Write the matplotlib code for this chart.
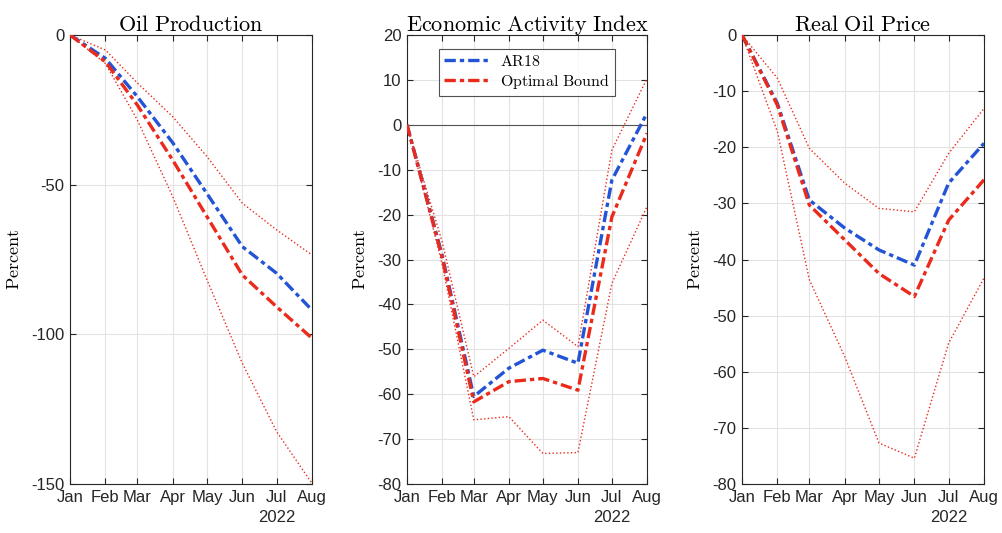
import matplotlib
matplotlib.use("Agg")
import matplotlib.pyplot as plt
import matplotlib.dates as mdates
from datetime import datetime

months = ["Jan", "Feb", "Mar", "Apr", "May", "Jun", "Jul", "Aug"]
year = 2022
dates = [datetime(year, m, 1) for m in range(1, 9)]

titles = ["Oil Production", "Economic Activity Index", "Real Oil Price"]

oil_ar18 = [0, -7.8, -20.6, -36, -53, -70.7, -79.6, -91.9]
oil_opt = [0, -8.9, -23.4, -41.8, -60.7, -80.2, -90.8, -101.3]
oil_up = [0, -5, -16, -27.3, -40.6, -56.2, -65.1, -73.5]
oil_lo = [0, -9.5, -28.4, -54, -81.8, -109.7, -132.5, -149.8]

eai_ar18 = [0, -29, -60.5, -54.2, -50.2, -53.1, -12.3, 2.6]
eai_opt = [0, -29.5, -61.7, -57.2, -56.5, -59.1, -20.5, -1.9]
eai_up = [0, -26, -56.1, -49.8, -43.5, -49.4, -5.6, 10.3]
eai_lo = [0, -31, -65.7, -65, -73.2, -73, -35.3, -18.2]

rop_ar18 = [0, -12.2, -29.4, -34.4, -38.3, -41, -26.4, -19.3]
rop_opt = [0, -12.5, -30.3, -36.5, -42.5, -46.6, -33, -25.8]
rop_up = [0, -7.7, -20.2, -26.4, -30.9, -31.5, -21.1, -13.1]
rop_lo = [0, -17.2, -43.6, -57.3, -72.7, -75.4, -54.9, -43.3]

series = [
    (oil_ar18, oil_opt, oil_up, oil_lo),
    (eai_ar18, eai_opt, eai_up, eai_lo),
    (rop_ar18, rop_opt, rop_up, rop_lo),
]
ylims = [(-150, 0), (-80, 20), (-80, 0)]
yticks = [[-150, -100, -50, 0], list(range(-80, 21, 10)), list(range(-80, 1, 10))]

blue = "#2354d6"
red = "#ea2a1a"
dashdot = (0, (3.4, 1.2, 1.3, 1.2))
tick_font = "Liberation Sans"

plt.rcParams["mathtext.fontset"] = "cm"

fig = plt.figure(figsize=(10.02, 5.33), dpi=100)
lefts = [70 / 1002, 407 / 1002, 742 / 1002]
widths = [242 / 1002, 240 / 1002, 242 / 1002]
bottom = 49 / 533
height = 449 / 533

def cm(s):
    return "$\\mathrm{" + s.replace(" ", "\\ ") + "}$"

for i in range(3):
    ax = fig.add_axes([lefts[i], bottom, widths[i], height])
    ar, opt, up, lo = series[i]
    ax.plot(dates, up, linestyle=":", color=red, lw=1.0)
    ax.plot(dates, lo, linestyle=":", color=red, lw=1.0)
    if i == 1:
        ax.axhline(0, color="#555555", lw=0.8, zorder=1)
    l1, = ax.plot(dates, ar, color=blue, lw=2.4, linestyle=dashdot,
                  dash_capstyle="butt", label=cm("AR18"), zorder=3)
    l2, = ax.plot(dates, opt, color=red, lw=2.4, linestyle=dashdot,
                  dash_capstyle="butt", label=cm("Optimal Bound"), zorder=3)
    ax.set_xlim(dates[0], dates[-1])
    ax.set_ylim(*ylims[i])
    ax.set_yticks(yticks[i])
    ax.set_yticklabels([str(v) for v in yticks[i]], fontfamily=tick_font, fontsize=12)
    ax.set_xticks(dates)
    ax.set_xticklabels(months, fontfamily=tick_font, fontsize=12)
    ax.grid(True, color="#e3e3e3", lw=0.8)
    ax.set_axisbelow(True)
    ax.tick_params(direction="in", length=4, color="#262626", labelcolor="#262626",
                   top=True, right=True, labeltop=False, labelright=False, pad=4)
    for sp in ax.spines.values():
        sp.set_color("#262626")
        sp.set_linewidth(0.8)
    ax.set_title(cm(titles[i]), fontsize=16, pad=3)
    ax.set_ylabel(cm("Percent"), fontsize=13, labelpad=6)
    ax.text(mdates.date2num(dates[6]), -0.058, "2022", transform=ax.get_xaxis_transform(),
            ha="center", va="top", fontfamily=tick_font, fontsize=12, color="#262626")
    if i == 1:
        leg = ax.legend(handles=[l1, l2], loc="upper center", bbox_to_anchor=(0.5, 0.98),
                        fontsize=11.5, frameon=True, fancybox=False, edgecolor="#262626",
                        handlelength=2.9, borderpad=0.3, labelspacing=0.2,
                        handletextpad=0.6, borderaxespad=0.3)
        leg.get_frame().set_linewidth(0.8)

fig.savefig("out.png", dpi=100)
